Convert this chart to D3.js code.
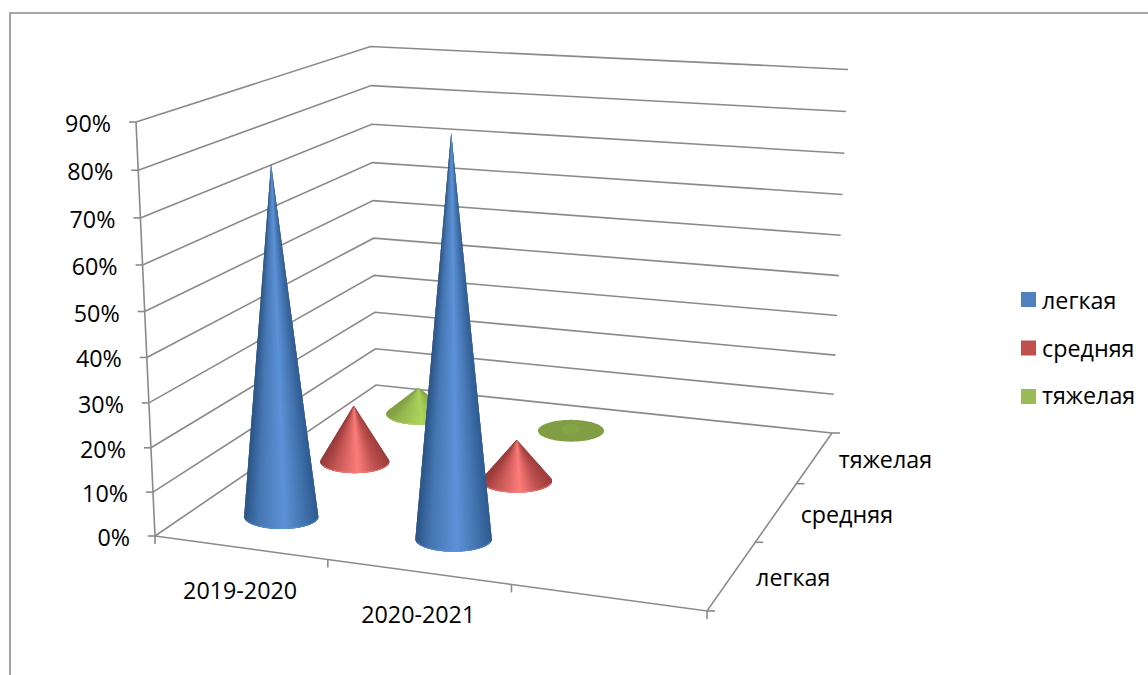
<!DOCTYPE html>
<html>
<head>
<meta charset="utf-8">
<script src="https://cdn.jsdelivr.net/npm/d3@7"></script>
<style>
    body { margin: 0; background: #fff; overflow: hidden; }
    text { font-family: "Open Sans", sans-serif; font-size: 23.3px; fill: #000; }
</style>
</head>
<body>
<div id="chart"></div>
<script>
// chart values
const years = ["2019-2020", "2020-2021", ""];   // third slot is empty in the original
const severity = ["легкая", "средняя", "тяжелая"];
const lightValues = [79, 88];
const mediumValues = [14, 10];
const heavyValues = [7, 2];
const valueTicks = [0, 10, 20, 30, 40, 50, 60, 70, 80, 90];

const seriesValues = [lightValues, mediumValues, heavyValues];
const legendColors = ["#4f81bd", "#c0504d", "#9bbb59"];
// edge, mid, highlight, mid, edge
const coneShades = [
    ["#2f5b92", "#4475b0", "#5c92d8", "#4677b2", "#2c5587"],
    ["#a03f3d", "#c05351", "#fb7d7a", "#c25553", "#983b39"],
    ["#86a347", "#97ba51", "#abd55b", "#97ba51", "#84a046"]
];

// corners of the floor and one height of the 3d box, in page pixels
const floor = { fl: [155, 536], fr: [707, 611], br: [832, 433], bl: [376, 385] };
const topFrontLeft = [136, 122];
const topBackRight = [848, 69];

// square to quad mapping for the floor
function buildCamera() {
    let [x0, y0] = floor.fl, [x1, y1] = floor.fr, [x2, y2] = floor.br, [x3, y3] = floor.bl;
    let dx1 = x1 - x2, dx2 = x3 - x2, sx = x0 - x1 + x2 - x3;
    let dy1 = y1 - y2, dy2 = y3 - y2, sy = y0 - y1 + y2 - y3;
    let den = dx1 * dy2 - dx2 * dy1;
    let g = (sx * dy2 - dx2 * sy) / den;
    let h = (dx1 * sy - sx * dy1) / den;
    let w11 = 1 + g + h;
    // height terms come from the two known top corners
    let k = (topFrontLeft[0] - x0 - (topBackRight[0] - x2) * w11) / (topBackRight[0] - topFrontLeft[0]);
    return {
        a: x1 - x0 + g * x1, b: x3 - x0 + h * x3, c: x0,
        d: y1 - y0 + g * y1, e: y3 - y0 + h * y3, f: y0,
        g: g, h: h, k: k,
        az: topFrontLeft[0] - x0 + topFrontLeft[0] * k,
        bz: topFrontLeft[1] - y0 + topFrontLeft[1] * k
    };
}
const cam = buildCamera();

function project(u, v, z) {
    let w = cam.g * u + cam.h * v + cam.k * z + 1;
    return [(cam.a * u + cam.b * v + cam.az * z + cam.c) / w,
            (cam.d * u + cam.e * v + cam.bz * z + cam.f) / w];
}
const perspective = (u, v) => 1 / (cam.g * u + cam.h * v + 1);

const xScale = d3.scaleBand().domain(years).range([0, 1]);
const depthScale = d3.scaleBand().domain(severity).range([0, 1]);
const zScale = d3.scaleLinear().domain([0, 90]).range([0, 1]);

const svg = d3.select("#chart").append("svg").attr("width", 1148).attr("height", 675);
const gray = "#8a8a8a";
const line = d3.line();

// outer frame, runs off the page on the right and the bottom
svg.append("path").attr("d", "M10,675V13H1148").attr("fill", "none")
    .attr("stroke", gray).attr("stroke-width", 1.6);

// walls
let grid = svg.append("g").attr("fill", "none").attr("stroke", gray).attr("stroke-width", 1.6);
grid.selectAll("path.wall").data(valueTicks).join("path").classed("wall", true)
    .attr("d", d => line([project(0, 0, zScale(d)), project(0, 1, zScale(d)), project(1, 1, zScale(d))]));

// floor edges
grid.append("path").attr("d", line([project(0, 0, 0), project(1, 0, 0), project(1, 1, 0)]));

// value axis
grid.append("path").attr("d", line([project(0, 0, 0), project(0, 0, 1)]));
grid.selectAll("path.ytick").data(valueTicks).join("path").classed("ytick", true)
    .attr("d", d => { let p = project(0, 0, zScale(d)); return line([p, [p[0] - 7, p[1]]]); });
svg.append("g").selectAll("text").data(valueTicks).join("text")
    .attr("x", d => project(0, 0, zScale(d))[0] - 25)
    .attr("y", d => project(0, 0, zScale(d))[1] + 10)
    .attr("text-anchor", "end")
    .text(d => d + "%");

// category axis
let xTicks = years.map(d => xScale(d)).concat([1]);
grid.selectAll("path.xtick").data(xTicks).join("path").classed("xtick", true)
    .attr("d", d => { let p = project(d, 0, 0); return line([p, [p[0], p[1] + 8]]); });
svg.append("g").selectAll("text").data(years).join("text")
    .attr("x", d => project(xScale(d) + xScale.bandwidth() / 2, 0, 0)[0])
    .attr("y", d => project(xScale(d) + xScale.bandwidth() / 2, 0, 0)[1] + 51)
    .attr("text-anchor", "middle")
    .text(d => d);

// depth axis
let depthTicks = severity.map(d => depthScale(d)).concat([1]);
grid.selectAll("path.dtick").data(depthTicks).join("path").classed("dtick", true)
    .attr("d", d => { let p = project(1, d, 0); return line([p, [p[0] + 8, p[1]]]); });
svg.append("g").selectAll("text").data(severity).join("text")
    .attr("x", d => project(1, depthScale(d) + depthScale.bandwidth() / 2, 0)[0] + 24)
    .attr("y", d => project(1, depthScale(d) + depthScale.bandwidth() / 2, 0)[1] + 11)
    .text(d => d);

// one cone: fan of slices from the tip to the visible part of the base.
// each slice runs on under the next one so no seams show
function drawCone(parent, yearIdx, serieIdx, value) {
    let u = xScale(years[yearIdx]) + xScale.bandwidth() / 2;
    let v = depthScale(severity[serieIdx]) + depthScale.bandwidth() / 2;
    let base = project(u, v, 0);
    let tip = project(u, v, zScale(value));
    let rx = 38 * perspective(u, v);
    let ry = rx * 0.33;

    let tx = tip[0] - base[0], ty = (tip[1] - base[1]) * rx / ry;
    let dist = Math.hypot(tx, ty);
    let flat = dist <= rx;
    let t0 = 0, t1 = 2 * Math.PI;
    if (!flat) {
        let phi = Math.atan2(ty, tx), spread = Math.acos(rx / dist);
        t0 = phi + spread;
        t1 = phi + 2 * Math.PI - spread;
    }
    let shade = d3.scaleLinear().domain([1, 0.6, 0.1, -0.6, -1]).range(coneShades[serieIdx]);
    let pt = t => [base[0] + rx * Math.cos(t), base[1] + ry * Math.sin(t)];
    let g = parent.append("g");

    if (flat) {
        // nearly no height: a plain dark disc with a faint lighter middle
        let disc = d3.range(0, 2 * Math.PI, 0.05).map(pt);
        let dark = d3.color(coneShades[serieIdx][1]).darker(0.45).formatHex();
        g.append("path").attr("d", line(disc) + "Z").attr("fill", dark);
        let spot = d3.range(0, 2 * Math.PI, 0.1).map(t => [tip[0] + rx * 0.28 * Math.cos(t), tip[1] + 6 + ry * 0.5 * Math.sin(t)]);
        g.append("path").attr("d", line(spot) + "Z").attr("fill", coneShades[serieIdx][1]).attr("fill-opacity", 0.22);
        return;
    }

    let n = 90;
    let arc = (a, b) => d3.range(0, 5).map(j => pt(a + (b - a) * j / 4));
    g.selectAll("path").data(d3.range(0, n)).join("path")
        .attr("d", i => {
            let a = t0 + (t1 - t0) * i / n, b = t0 + (t1 - t0) * Math.min(i + 3, n) / n;
            return line([tip].concat(arc(a, b))) + "Z";
        })
        .attr("fill", i => shade(Math.cos(t0 + (t1 - t0) * (i + 0.5) / n)));

    // lighter rim along the lower edge of the base
    let rim = d3.range(0.2, Math.PI - 0.2, 0.05).map(t => [base[0] + (rx - 0.6) * Math.cos(t), base[1] + (ry - 0.6) * Math.sin(t)]);
    g.append("path").attr("d", line(rim)).attr("fill", "none")
        .attr("stroke", coneShades[serieIdx][2]).attr("stroke-width", 1.2).attr("stroke-opacity", 0.55);
}

// back row first so the front cones cover it
let cones = svg.append("g");
for (let s = severity.length - 1; s >= 0; s--) {
    seriesValues[s].forEach((val, i) => drawCone(cones, i, s, val));
}

// legend
let legend = svg.append("g").selectAll("g").data(severity).join("g")
    .attr("transform", (d, i) => "translate(1021," + (292 + i * 48.5) + ")");
legend.append("rect").attr("width", 15).attr("height", 15).attr("fill", (d, i) => legendColors[i]);
legend.append("text").attr("x", 21).attr("y", (d, i) => 17 - i).text(d => d);
</script>
</body>
</html>
